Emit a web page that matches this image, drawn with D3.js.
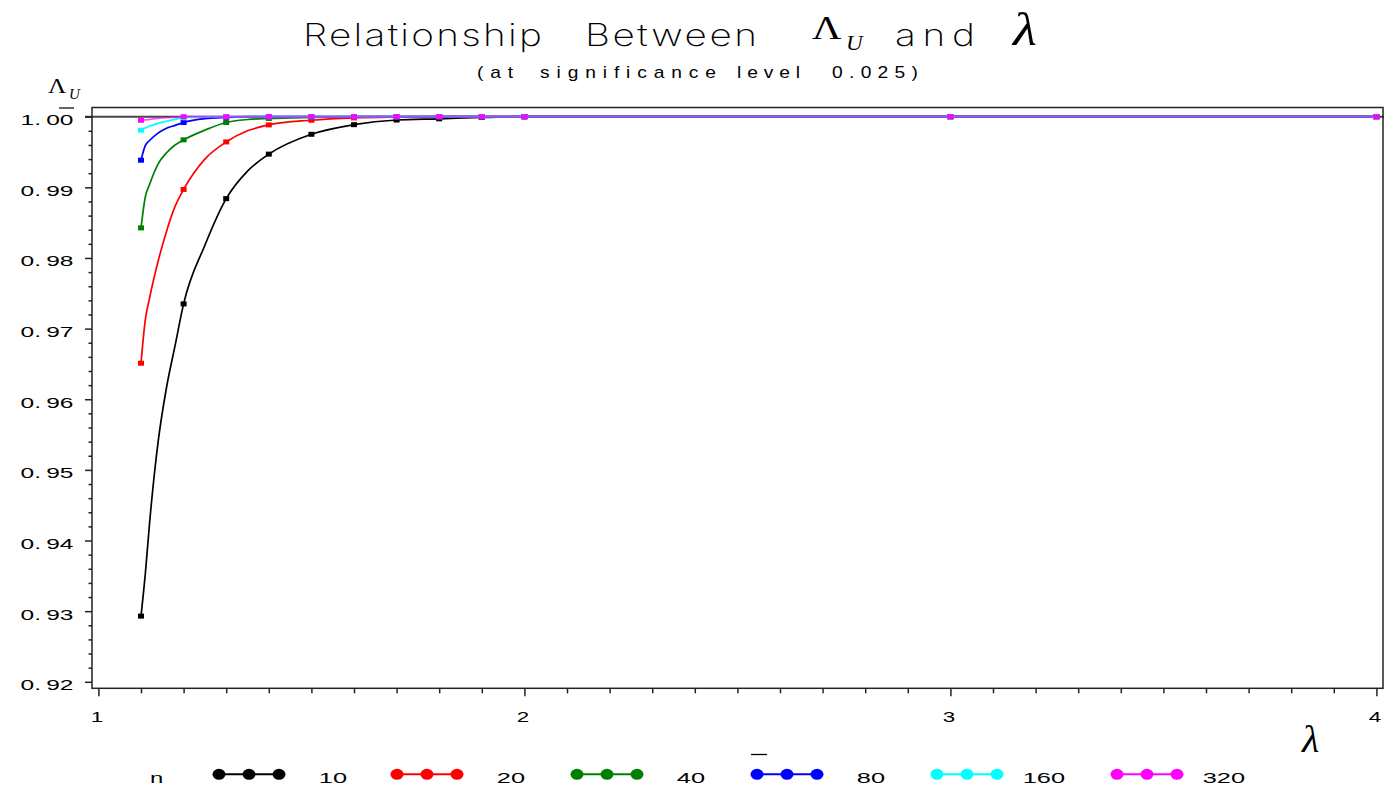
<!DOCTYPE html>
<html><head><meta charset="utf-8">
<script src="https://cdn.jsdelivr.net/npm/d3@7"></script>
<style>body{margin:0;background:#fff}svg{display:block}</style>
</head><body>
<svg id="c" width="1384" height="793"></svg>
<script>
// ---------- data ----------
const lambdaLine = [1.1,1.11,1.12,1.14,1.16,1.18,1.2,1.25,1.3,1.35,1.4,1.5,1.6,1.7,1.8,1.9,2.0,3,4];
const markerLambdas = [1.1,1.2,1.3,1.4,1.5,1.6,1.7,1.8,1.9,2.0,3,4];
const seriesN = [10,20,40,80,160,320];
const seriesColors = ["#000000","#ff0000","#008000","#0000ff","#00ffff","#ff00ff"];
const vals10  = [0.9293,0.9352,0.9424,0.9539,0.9617,0.9676,0.9735,0.9818,0.9884,0.9923,0.9947,0.99751,0.99887,0.99953,0.99970,0.99990,1,1,1];
const vals20  = [0.9651,0.9712,0.9743,0.9795,0.9838,0.9873,0.9897,0.9940,0.99643,0.9980,0.99884,0.9995,0.99983,0.99995,1,1,1,1,1];
const vals40  = [0.98426,0.9886,0.9904,0.9933,0.9949,0.9960,0.99672,0.9981,0.99918,0.9996,0.99975,0.9999,1,1,1,1,1,1,1];
const vals80  = [0.99384,0.9959,0.99663,0.99768,0.99836,0.99877,0.99918,0.99972,0.9999,1,1,1,1,1,1,1,1,1,1];
const vals160 = [0.99809,0.9984,0.99865,0.99905,0.99935,0.99962,0.99985,0.99997,1,1,1,1,1,1,1,1,1,1,1];
const vals320 = [0.9995,0.99955,0.99962,0.99975,0.99985,0.99993,1,1,1,1,1,1,1,1,1,1,1,1,1];
const seriesVals = [vals10,vals20,vals40,vals80,vals160,vals320];
const yMajorTicks = [0.92,0.93,0.94,0.95,0.96,0.97,0.98,0.99,1.00];
const xMajorTicks = [1,2,3,4];
const titleWords = ["Relationship","Between"];
const subtitleWords = ["(at","significance","level","0.025)"];

// ---------- layout ----------
const svg = d3.select("#c");
const F = {l:92, r:1383, t:107.5, b:688.3};
const x = d3.scaleLinear().domain([1,4]).range([98.4,1376.4]);
const y = d3.scaleLinear().domain([0.92,1.00]).range([681.8,116.7]);
const SANS = "'Liberation Sans', Arial, Helvetica, sans-serif";
const SERIF = "'Liberation Serif', 'Times New Roman', serif";
const TITLEF = "Inter, 'DejaVu Sans', sans-serif";

function sasText(parent, str, o){
  const t = parent.append("text")
    .attr("transform", `translate(${o.x},${o.y}) scale(${o.sx||1},1)`)
    .attr("text-anchor", o.anchor||"start")
    .attr("font-family", o.family||SANS)
    .attr("font-size", o.size)
    .attr("font-weight", o.weight||"normal")
    .attr("font-style", o.style||"normal")
    .attr("fill", o.fill||"#000")
    .text(str);
  if (o.width){
    const L = t.node().getComputedTextLength();
    const n = [...str].length;
    const ls = (o.width/(o.sx||1) - L)/Math.max(1,n-1);
    t.attr("letter-spacing", ls);
  }
  return t;
}

// reference line at 1.00
svg.append("line").attr("x1",85).attr("x2",1384).attr("y1",y(1)).attr("y2",y(1))
  .attr("stroke","#444").attr("stroke-width",2);

// frame
svg.append("rect").attr("x",F.l).attr("y",F.t).attr("width",F.r-F.l).attr("height",F.b-F.t)
  .attr("fill","none").attr("stroke","#222").attr("stroke-width",1.5);

// y axis
const gy = svg.append("g").attr("transform",`translate(${F.l},0)`);
gy.call(d3.axisLeft(y).tickValues(yMajorTicks).tickSize(7).tickFormat(""));
const yMinor = d3.range(460,501).filter(i=>i%5!==0).map(i=>i/500);
gy.append("g").call(d3.axisLeft(y).tickValues(yMinor).tickSize(3.5).tickFormat(""));
gy.selectAll(".domain").remove();
gy.selectAll("line").attr("stroke","#222").attr("stroke-width",1.5);

// x axis
const gx = svg.append("g").attr("transform",`translate(0,${F.b})`);
gx.call(d3.axisBottom(x).tickValues(xMajorTicks).tickSize(8).tickFormat(""));
const xMinor = d3.range(10,41).filter(i=>i%10!==0).map(i=>i/10);
gx.append("g").call(d3.axisBottom(x).tickValues(xMinor).tickSize(5).tickFormat(""));
gx.selectAll(".domain").remove();
gx.selectAll("line").attr("stroke","#222").attr("stroke-width",1.5);

// y tick labels
const fmt = d3.format(".2f");
yMajorTicks.forEach(v=>{
  const s = fmt(v), p = s.indexOf(".");
  const t = svg.append("text")
    .attr("transform",`translate(73.5,${y(v)+8.5}) scale(1.75,1)`)
    .attr("text-anchor","end").attr("font-family",SANS).attr("font-size",14).attr("fill","#000");
  t.append("tspan").text(s.slice(0,p+1));
  t.append("tspan").attr("dx",3).text(s.slice(p+1));
});
// stray overline above "00" (as in the reference)
svg.append("line").attr("x1",59).attr("x2",74).attr("y1",108).attr("y2",108).attr("stroke","#000").attr("stroke-width",1.2);

// x tick labels
xMajorTicks.forEach(v=>{
  sasText(svg, String(v), {x:x(v)-1.5, y:722, size:14, sx:1.6, anchor:"middle"});
});

// series
const line = d3.line().x(d=>x(d.l)).y(d=>y(d.v)).curve(d3.curveMonotoneX);
seriesN.forEach((n,i)=>{
  const pts = lambdaLine.map((l,j)=>({l, v:seriesVals[i][j]}));
  const g = svg.append("g");
  g.append("path").datum(pts).attr("d",line).attr("fill","none")
    .attr("stroke",seriesColors[i]).attr("stroke-width",1.7)
    .attr("stroke-opacity", i===5?0.7:1);
  const mk = pts.filter(p=>markerLambdas.some(m=>Math.abs(m-p.l)<1e-9));
  g.selectAll("rect").data(mk).join("rect")
    .attr("x",d=>x(d.l)-3).attr("y",d=>y(d.v)-2.5).attr("width",6).attr("height",5)
    .attr("fill",seriesColors[i]);
});

// title
const titlePos = [{x:303,w:239},{x:585,w:172}];
titleWords.forEach((w,i)=>sasText(svg, w, {x:titlePos[i].x, y:46, size:31, sx:1.25, width:titlePos[i].w, family:TITLEF, weight:200}));
sasText(svg, "Λ", {x:812, y:39, size:34, sx:1.2, family:SERIF});
sasText(svg, "U", {x:846, y:50, size:22, sx:1.05, family:SERIF, style:"italic"});
sasText(svg, "and", {x:895, y:46, size:31, sx:1.25, width:80, family:TITLEF, weight:200});
sasText(svg, "λ", {x:1013, y:45, size:46, sx:1.2, family:SERIF, style:"italic"});
const subPos = [{x:477,w:36},{x:540,w:176},{x:737,w:63},{x:832,w:86}];
subtitleWords.forEach((w,i)=>sasText(svg, w, {x:subPos[i].x, y:78, size:16, sx:1.2, width:subPos[i].w}));

// y axis label
sasText(svg, "Λ", {x:48, y:93, size:21, sx:1.2, family:SERIF});
sasText(svg, "U", {x:69, y:99, size:15, family:SERIF, style:"italic"});
// x axis label
sasText(svg, "λ", {x:1302, y:752, size:38, sx:1.05, family:SERIF, style:"italic"});
// stray mark above legend (as in the reference)
svg.append("line").attr("x1",751).attr("x2",767).attr("y1",754.5).attr("y2",754.5).attr("stroke","#000").attr("stroke-width",1.3);

// legend
const legendStart = [219,397,577,757,937,1117];
const LY = 774.3;
sasText(svg, "n", {x:150, y:782.7, size:14, sx:1.7});
seriesN.forEach((n,i)=>{
  const m = legendStart[i];
  const g = svg.append("g");
  g.append("line").attr("x1",m).attr("x2",m+60).attr("y1",LY).attr("y2",LY)
    .attr("stroke",seriesColors[i]).attr("stroke-width",2);
  [0,30,60].forEach(o=>{
    g.append("ellipse").attr("cx",m+o).attr("cy",LY).attr("rx",6.5).attr("ry",5.5).attr("fill",seriesColors[i]);
  });
  sasText(svg, String(n), {x:m+128, y:782.7, size:14.5, sx:1.75, anchor:"end"});
});
</script>
</body></html>
